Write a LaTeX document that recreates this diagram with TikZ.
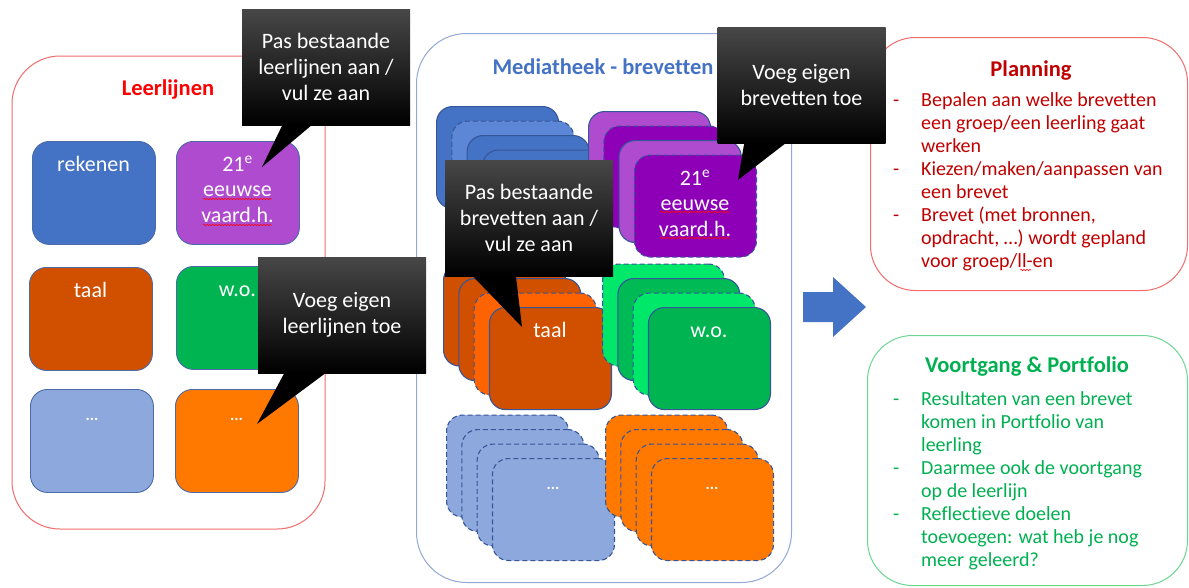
\documentclass[tikz,border=0pt]{standalone}
\usepackage{fontspec}
\setmainfont{Carlito}[Ligatures={NoCommon}]
\usetikzlibrary{calc,decorations.pathmorphing}
\definecolor{edgeA}{HTML}{4A6AA8}
\definecolor{edgeB}{HTML}{36569A}
\definecolor{cBlue}{HTML}{4472C4}
\definecolor{cBlueL}{HTML}{5B87D6}
\definecolor{cPurL}{HTML}{AF4BCE}
\definecolor{cPurD}{HTML}{8E00B8}
\definecolor{cRust}{HTML}{D15000}
\definecolor{cOrB}{HTML}{FF6300}
\definecolor{cGrn}{HTML}{00B551}
\definecolor{cGrnM}{HTML}{00BA56}
\definecolor{cGrnB}{HTML}{00E86A}
\definecolor{cLBlue}{HTML}{8DA8DC}
\definecolor{cOrg}{HTML}{FF7800}
\definecolor{redLine}{HTML}{F36B6B}
\definecolor{medLine}{HTML}{92A8D6}
\definecolor{grnLine}{HTML}{6CD590}
\definecolor{darkRed}{HTML}{C00000}
\definecolor{brRed}{HTML}{FF0000}
\definecolor{grnTxt}{HTML}{00B050}
\begin{document}
\begin{tikzpicture}[x=1pt,y=-1pt,
  bigbox/.style={line width=1pt, inner sep=0, anchor=north west},
  lbox/.style={draw=edgeA, line width=0.9pt, rounded corners=17pt, minimum width=123pt, minimum height=103pt, inner sep=0, anchor=north west},
  sbox/.style={draw=edgeB, line width=1.1pt, rounded corners=16pt, minimum width=122pt, minimum height=102pt, inner sep=0, anchor=north west},
  dsh/.style={dash pattern=on 5pt off 3pt},
  lab/.style={text=white, inner sep=0, anchor=base, font=\fontsize{22}{25.5}\selectfont},
  dots/.style={text=white, inner sep=0, anchor=base, font=\fontsize{16}{18}\selectfont\bfseries},
  ttl/.style={inner sep=0, anchor=base, font=\fontsize{22.5}{26}\selectfont\bfseries},
  callout/.style={minimum width=168pt, minimum height=116pt, inner sep=0, text=white, align=center,
     font=\fontsize{22}{26}\selectfont, top color=black!72, middle color=black, bottom color=black},
  ptr/.style={fill=black},
  bullets/.style={inner sep=0, anchor=base west, font=\fontsize{20}{23}\selectfont},
  squig/.style={red, line width=0.5pt, decorate, decoration={snake, amplitude=0.7pt, segment length=3pt}}
]
\useasboundingbox (0,0) rectangle (1189,587);

% ---------------- Leerlijnen ----------------
\node[bigbox, draw=redLine, rounded corners=48pt, minimum width=313pt, minimum height=473pt] (leer) at (11.5,55.5) {};
\node[ttl, text=brRed] (leerT) at (168,95) {Leerlijnen};

\node[lbox, fill=cBlue] (rek) at (32,141) {};
\node[lab] (rekL) at (93.5,171) {rekenen};
\node[lbox, fill=cPurL] (vaa) at (176,141) {};
\node[lab] (vaaL) at (237.5,171) {\begin{tabular}[t]{@{}c@{}}21\textsuperscript{e}\\eeuwse\\vaard.h.\end{tabular}};
\node[lbox, fill=cRust] (taa) at (29,267) {};
\node[lab] (taaL) at (90.5,297) {taal};
\node[lbox, fill=cGrn] (wo) at (176,266) {};
\node[lab] (woL) at (237.5,296) {w.o.};
\node[lbox, fill=cLBlue] (lb) at (30,389) {};
\node[dots] (lbL) at (92,420) {...};
\node[lbox, fill=cOrg] (og) at (175,389) {};
\node[dots] (ogL) at (236.5,420) {...};
\draw[squig] (203,199) -- (272,199);
\draw[squig] (203,225) -- (272,225);

% ---------------- Mediatheek ----------------
\node[bigbox, draw=medLine, rounded corners=50pt, minimum width=375pt, minimum height=549pt] (med) at (416,33) {};
\node[ttl, text=cBlue] (medT) at (603,74) {Mediatheek - brevetten};

% blue stack
\node[sbox, fill=cBlue] (bl1) at (436,106) {};
\node[sbox, fill=cBlueL, dsh] (bl2) at (451.3,120.5) {};
\node[sbox, fill=cBlue] (bl3) at (466.6,135) {};
\node[sbox, fill=cBlue] (bl4) at (481.9,149.5) {};
% purple stack
\node[sbox, fill=cPurL] (pu1) at (588,111) {};
\node[sbox, fill=cPurD, dsh] (pu2) at (603.3,125.5) {};
\node[sbox, fill=cPurL] (pu3) at (618.6,140) {};
\node[sbox, fill=cPurD, dsh] (pu4) at (633.9,154.5) {};
\node[lab] (pu4L) at (695,185) {\begin{tabular}[t]{@{}c@{}}21\textsuperscript{e}\\eeuwse\\vaard.h.\end{tabular}};
\draw[squig] (660,212) -- (730,212);
\draw[squig] (660,238) -- (730,238);
% taal stack
\node[sbox, fill=cRust] (ta1) at (443,263.5) {};
\node[sbox, fill=cRust] (ta2) at (458.3,278) {};
\node[sbox, fill=cOrB, dsh] (ta3) at (473.6,292.5) {};
\node[sbox, fill=cRust] (ta4) at (488.9,307) {};
\node[lab] (ta4L) at (550,337) {taal};
% green stack
\node[sbox, fill=cGrnB, dsh] (gr1) at (602,263.5) {};
\node[sbox, fill=cGrnM] (gr2) at (617.3,278) {};
\node[sbox, fill=cGrnB, dsh] (gr3) at (632.6,292.5) {};
\node[sbox, fill=cGrn] (gr4) at (647.9,307) {};
\node[lab] (gr4L) at (709,337) {w.o.};
% light blue stack
\node[sbox, fill=cLBlue, dsh] (lbs1) at (446,414.5) {};
\node[sbox, fill=cLBlue, dsh] (lbs2) at (461.3,429) {};
\node[sbox, fill=cLBlue, dsh] (lbs3) at (476.6,443.5) {};
\node[sbox, fill=cLBlue, dsh] (lbs4) at (491.9,458) {};
\node[dots] (lbs4L) at (553,489) {...};
% orange stack
\node[sbox, fill=cOrg, dsh] (ors1) at (605,414.5) {};
\node[sbox, fill=cOrg, dsh] (ors2) at (620.3,429) {};
\node[sbox, fill=cOrg, dsh] (ors3) at (635.6,443.5) {};
\node[sbox, fill=cOrg, dsh] (ors4) at (650.9,458) {};
\node[dots] (ors4L) at (712,489) {...};

% ---------------- arrow ----------------
\fill[cBlue] (803,292) -- (833,292) -- (833,277) -- (866,307) -- (833,337) -- (833,322) -- (803,322) -- cycle;

% ---------------- Planning ----------------
\node[bigbox, draw=redLine, rounded corners=45pt, minimum width=317pt, minimum height=253pt] (plan) at (870,37) {};
\node[ttl, text=darkRed] (planT) at (1031,76) {Planning};
\node[bullets, text=darkRed] (planL) at (893,106) {\begin{tabular}[t]{@{}p{28pt}@{}l@{}}-&Bepalen aan welke brevetten\\&een groep/een leerling gaat\\&werken\\-&Kiezen/maken/aanpassen van\\&een brevet\\-&Brevet (met bronnen,\\&opdracht, …) wordt gepland\\&voor groep/ll-en\end{tabular}};
\draw[squig] (1020,270) -- (1031,270);

% ---------------- Voortgang ----------------
\node[bigbox, draw=grnLine, rounded corners=45pt, minimum width=320pt, minimum height=250pt] (voor) at (867,335) {};
\node[ttl, text=grnTxt] (voorT) at (1027,372) {Voortgang \& Portfolio};
\node[bullets, text=grnTxt] (voorL) at (893,405) {\begin{tabular}[t]{@{}p{28pt}@{}l@{}}-&Resultaten van een brevet\\&komen in Portfolio van\\&leerling\\-&Daarmee ook de voortgang\\&op de leerlijn\\-&Reflectieve doelen\\&toevoegen: wat heb je nog\\&meer geleerd?\end{tabular}};

% ---------------- callouts ----------------
\node[callout] (c1) at (326,67) {Pas bestaande\\leerlijnen aan /\\vul ze aan};
\coordinate (c1tip) at (262,167);
\fill[ptr] ($(c1.south west)+(41,-1)$) -- (c1tip) -- ($(c1.south west)+(71,-1)$) -- cycle;

\node[callout] (c2) at (342,315) {Voeg eigen\\leerlijnen toe};
\coordinate (c2tip) at (257,424);
\fill[ptr] ($(c2.south west)+(27,-1)$) -- (c2tip) -- ($(c2.south west)+(69,-1)$) -- cycle;

\node[callout] (c3) at (801.5,85.5) {Voeg eigen\\brevetten toe};
\coordinate (c3tip) at (738,180);
\fill[ptr] ($(c3.south west)+(27,-1)$) -- (c3tip) -- ($(c3.south west)+(69,-1)$) -- cycle;

\node[callout] (c4) at (529,218) {Pas bestaande\\brevetten aan /\\vul ze aan};
\coordinate (c4tip) at (522,327);
\fill[ptr] ($(c4.south west)+(27,-1)$) -- (c4tip) -- ($(c4.south west)+(71,-1)$) -- cycle;
\end{tikzpicture}
\end{document}
